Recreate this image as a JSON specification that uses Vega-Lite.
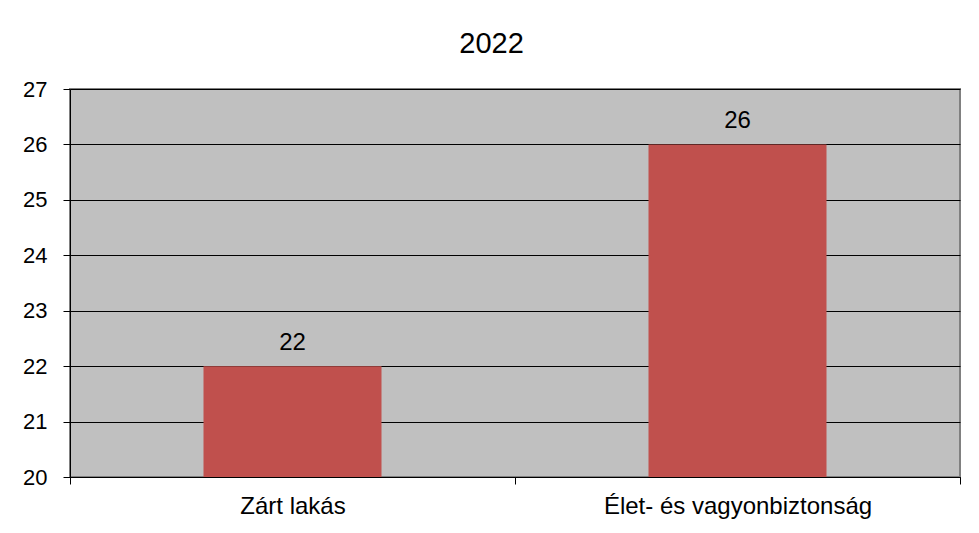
{
  "$schema": "https://vega.github.io/schema/vega-lite/v6.json",
  "autosize": "none",
  "width": 890,
  "height": 388,
  "padding": {"left": 70, "top": 89, "right": 19, "bottom": 56},
  "background": "white",
  "title": {"text": "2022", "fontSize": 29, "font": "Liberation Sans", "fontWeight": "normal", "color": "#000", "offset": 19, "anchor": "middle", "frame": "bounds"},
  "data": {"values": [
    {"category": "Zárt lakás", "value": 22},
    {"category": "Élet- és vagyonbiztonság", "value": 26}
  ]},
  "encoding": {
    "x": {"field": "category", "type": "nominal", "sort": null, "title": null,
      "scale": {"paddingInner": 0, "paddingOuter": 0},
      "axis": {"labelAngle": 0, "tickBand": "extent", "labelPadding": 10, "labelLimit": 600, "labelFontSize": 24}},
    "y": {"field": "value", "type": "quantitative", "title": null,
      "scale": {"domain": [20, 27], "zero": false, "nice": false},
      "axis": {"values": [20,21,22,23,24,25,26,27], "grid": true, "labelOverlap": false, "labelPadding": 16, "labelFontSize": 22}}
  },
  "layer": [
    {"mark": {"type": "bar", "color": "#C0504D", "width": {"band": 0.4}, "clip": true}},
    {"mark": {"type": "text", "dy": -16, "baseline": "alphabetic", "fontSize": 24, "font": "Liberation Sans", "color": "#000"},
      "encoding": {"text": {"field": "value", "type": "quantitative"}}}
  ],
  "config": {
    "view": {"fill": "#C0C0C0", "stroke": "#808080", "strokeWidth": 2},
    "axis": {"labelFont": "Liberation Sans", "labelColor": "#000", "domainColor": "#000", "tickColor": "#000", "tickSize": 7, "gridColor": "#000", "gridWidth": 1, "gridOpacity": 1}
  }
}
